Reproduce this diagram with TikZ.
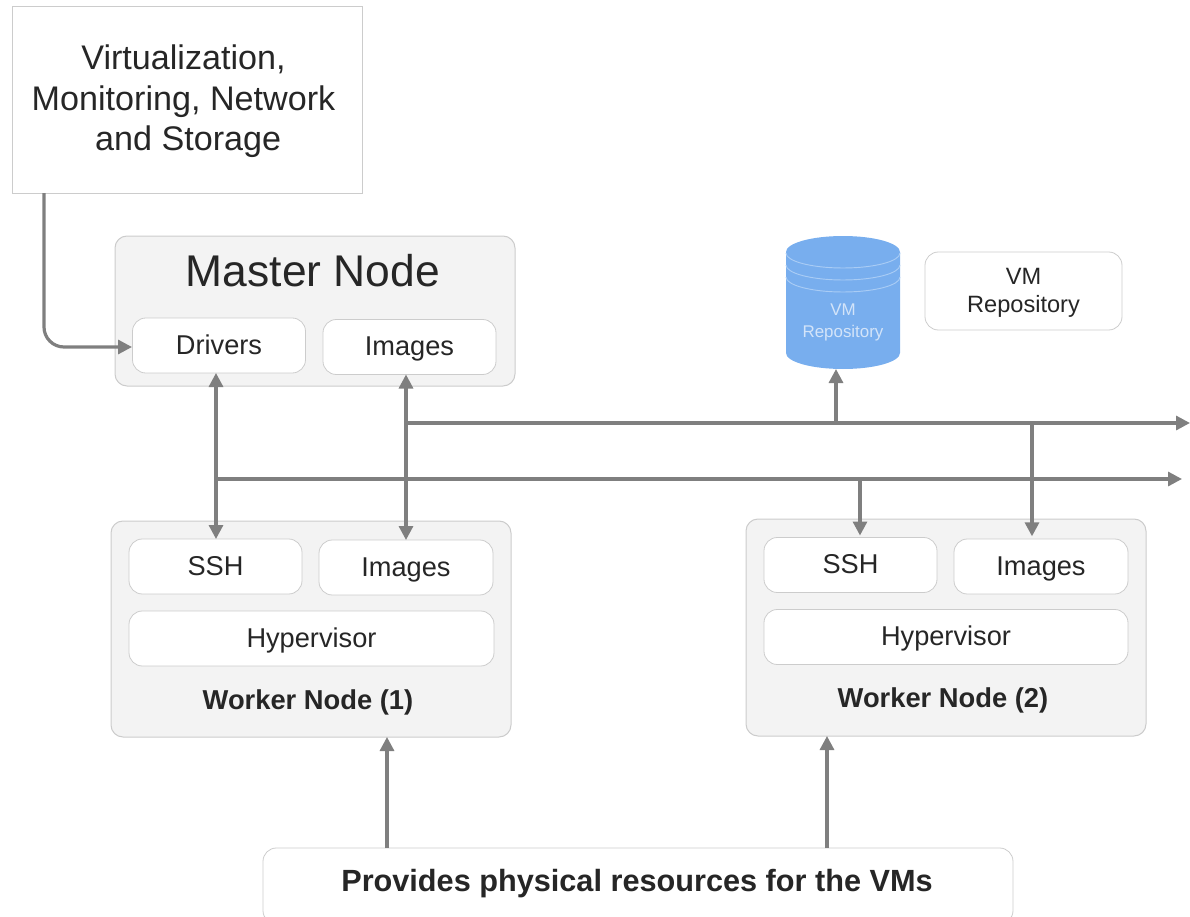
\documentclass[tikz,border=0pt]{standalone}
\usepackage{fontspec}
\setmainfont{Liberation Sans}
\usetikzlibrary{arrows.meta}
\definecolor{edgegray}{HTML}{CCCCCC}
\definecolor{panelgray}{HTML}{F3F3F3}
\definecolor{linkgray}{HTML}{7F7F7F}
\definecolor{inkgray}{HTML}{262626}
\definecolor{repoblue}{HTML}{78AEEE}
\definecolor{repolight}{HTML}{A9CCF5}
\definecolor{repotext}{HTML}{D3E4F9}
\newcommand{\fsz}[2]{\fontsize{#1pt}{#2pt}\selectfont}
\tikzset{
  x=0.75pt,y=-0.75pt,
  every node/.style={inner sep=0pt,outer sep=0pt,text=inkgray,align=center},
  panel/.style={draw=edgegray,line width=0.75pt,fill=panelgray,rounded corners=9pt},
  card/.style={draw=edgegray,line width=0.6pt,fill=white,rounded corners=10pt},
  link/.style={draw=linkgray,line width=2.4pt,-{Triangle[length=10.5pt,width=10.5pt]}},
  duplex/.style={draw=linkgray,line width=2.4pt,{Triangle[length=10.5pt,width=10.5pt]}-{Triangle[length=10.5pt,width=10.5pt]}},
  cardtext/.style={font=\fsz{20.4}{24},text height=16pt,text depth=3.1pt},
  titletext/.style={font=\bfseries\fsz{20.5}{24}},
}
\begin{document}
\begin{tikzpicture}
\useasboundingbox (0,0) rectangle (1190,917);
% source box
\node[draw=edgegray,line width=0.75pt,fill=white,minimum width=262.5pt,minimum height=139.5pt] (virt) at (187,100) {};
\node[font=\fsz{25.6}{30.4}] (virttext) at (183.5,101.5) {Virtualization,\\Monitoring, Network\\\hspace*{7pt}and Storage};
% master
\node[panel,minimum width=300pt,minimum height=112.5pt] (master) at (315,311) {};
\node[font=\fsz{33.3}{38}] (mastertitle) at (313,271) {Master Node};
\node[card,cardtext,minimum width=129.75pt,minimum height=41.25pt] (drivers) at (219,345.5) {Drivers};
\node[card,cardtext,minimum width=129.75pt,minimum height=41.25pt] (imagesm) at (409.5,347) {Images};
% repository
\fill[repoblue] (786,252) arc[start angle=180,end angle=360,x radius=57,y radius=16] -- (900,353) arc[start angle=0,end angle=180,x radius=57,y radius=16] -- cycle;
\foreach \yy in {253,265,277}
  \draw[repolight,line width=0.7pt] (786,\yy) arc[start angle=180,end angle=0,x radius=57,y radius=15];
\node[minimum width=85.5pt,minimum height=99.75pt] (repo) at (843,302.5) {};
\node[font=\fsz{12.7}{16.5},text=repotext] (repotxt) at (843,322) {VM\\Repository};
\node[card,minimum width=147.75pt,minimum height=58.5pt] (repolabel) at (1023.5,291) {};
\node[font=\fsz{17.7}{21}] (repolabeltxt) at (1023.5,293) {VM\\Repository};
% worker 1
\node[panel,minimum width=300pt,minimum height=162pt] (w1) at (311,629) {};
\node[card,cardtext,minimum width=129.75pt,minimum height=41.25pt] (ssha) at (215.5,566.5) {SSH};
\node[card,cardtext,minimum width=130.5pt,minimum height=41.25pt] (imagesa) at (406,567.5) {Images};
\node[card,cardtext,minimum width=273.75pt,minimum height=41.25pt] (hypa) at (311.5,638.5) {Hypervisor};
\node[titletext] (w1title) at (308,702) {Worker Node (1)};
% worker 2
\node[panel,minimum width=300pt,minimum height=162.75pt] (w2) at (946,627.5) {};
\node[card,cardtext,minimum width=129.75pt,minimum height=41.25pt] (sshb) at (850.5,565) {SSH};
\node[card,cardtext,minimum width=130.5pt,minimum height=41.25pt] (imagesb) at (1041,566.5) {Images};
\node[card,cardtext,minimum width=273pt,minimum height=41.25pt] (hypb) at (946,637) {Hypervisor};
\node[titletext] (w2title) at (943,700) {Worker Node (2)};
% resources
\node[card,minimum width=562.5pt,minimum height=57pt] (res) at (638,886) {};
\node[font=\bfseries\fsz{23}{26}] (restxt) at (637,884) {Provides physical resources for the VMs};
% junctions and ends
\coordinate (busa) at (216,479);
\coordinate (busb) at (406,423);
\coordinate (busaend) at (1182,479);
\coordinate (busbend) at (1190,423);
\coordinate (repotap) at (836,423);
\coordinate (imgtap) at (1032,423);
\coordinate (sshtap) at (860,479);
\coordinate (srcout) at (44,193);
\coordinate (drvin) at (132,347);
\coordinate (resa) at (387,848);
\coordinate (resb) at (827,848);
% connectors
\draw[link,rounded corners=15pt] (srcout) |- (drvin);
\draw[duplex] (busa |- drivers.south) -- (busa |- ssha.north);
\draw[duplex] (busb |- imagesm.south) -- (busb |- imagesa.north);
\draw[link] (busa) -- (busaend);
\draw[link] (busb) -- (busbend);
\draw[link] (repotap) -- (repotap |- repo.south);
\draw[link,shorten >=2pt] (imgtap) -- (imgtap |- imagesb.north);
\draw[link,shorten >=1.5pt] (sshtap) -- (sshtap |- sshb.north);
\draw[link] (resa) -- (resa |- w1.south);
\draw[link] (resb) -- (resb |- w2.south);
\end{tikzpicture}
\end{document}
